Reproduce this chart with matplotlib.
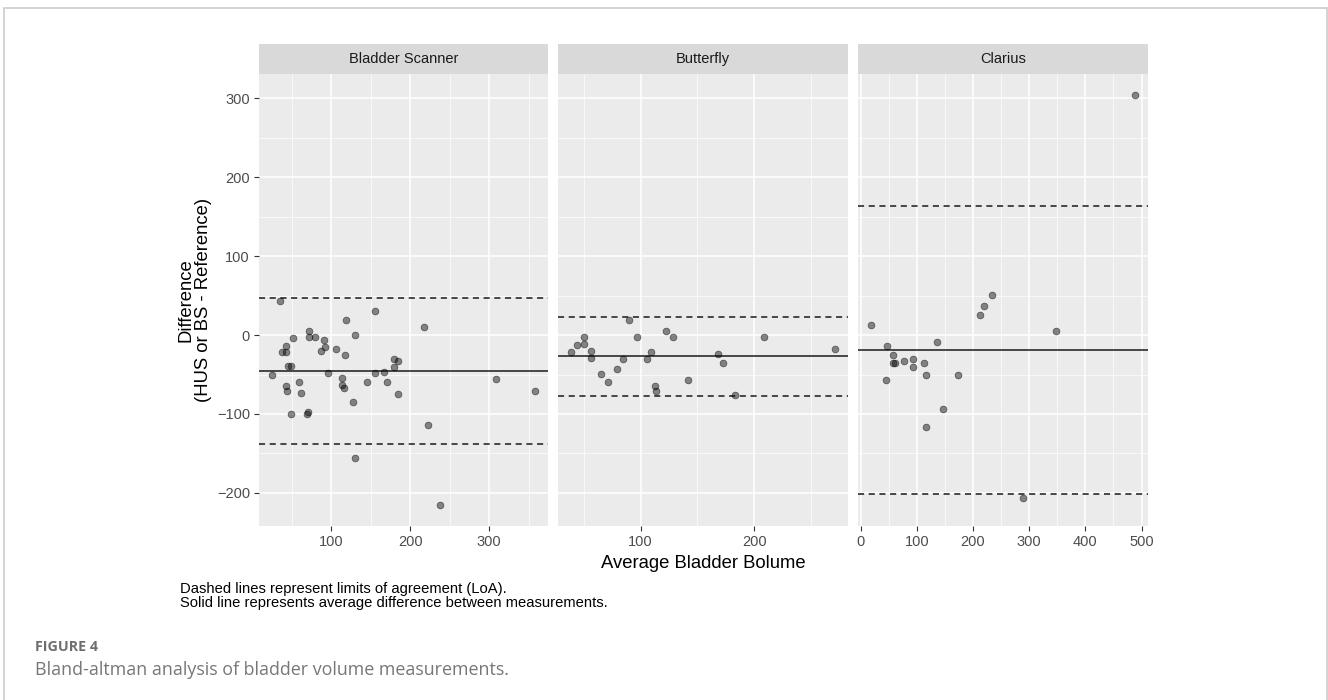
import numpy as np
import matplotlib.pyplot as plt
from matplotlib.patches import Rectangle
from matplotlib.ticker import FixedLocator

# Facet names
devices = ["Bladder Scanner", "Butterfly", "Clarius"]

# Bladder Scanner: average volume vs difference
bs_avg = [35, 25, 38, 43, 43, 52, 45, 49, 42, 44, 49, 59, 62, 69, 70, 72, 72, 79, 91, 92,
          87, 96, 106, 119, 130, 117, 114, 114, 116, 127, 130, 145, 156, 156, 167, 171,
          179, 184, 180, 184, 217, 223, 238, 309, 358]
bs_diff = [43, -50, -22, -22, -14, -4, -39, -39, -65, -71, -100, -59, -74, -100, -98, 5, -3,
           -3, -6, -15, -20, -48, -18, 19, 0, -25, -54, -63, -67, -85, -156, -60, 30, -48,
           -47, -59, -30, -33, -40, -75, 10, -114, -216, -56, -71]

# Butterfly
bf_avg = [39, 44, 50, 50, 56, 56, 65, 71, 79, 85, 90, 97, 106, 109, 113, 114, 122, 129,
          142, 168, 173, 183, 209, 271]
bf_diff = [-22, -12, -2, -11, -20, -29, -49, -60, -43, -30, 19, -2, -30, -22, -65, -71, 5,
           -2, -57, -24, -35, -76, -3, -17]

# Clarius
cl_avg = [19, 47, 46, 58, 57, 61, 77, 94, 94, 113, 116, 117, 136, 147, 174, 212, 219, 234,
          289, 347, 488]
cl_diff = [13, -14, -57, -25, -35, -35, -33, -30, -41, -35, -51, -116, -9, -94, -50, 26, 37,
           51, -207, 5, 305]

# mean difference and limits of agreement (lower, upper)
bias = [-45, -27, -19]
loa_low = [-138, -77, -201]
loa_high = [47, 23, 164]

avgs = [bs_avg, bf_avg, cl_avg]
diffs = [bs_diff, bf_diff, cl_diff]
major_x = [[100, 200, 300], [100, 200], [0, 100, 200, 300, 400, 500]]
minor_x = [[50, 150, 250, 350], [50, 150, 250], [50, 150, 250, 350, 450]]

W, H = 1328, 700
fig = plt.figure(figsize=(W / 100, H / 100), dpi=100)
plt.rcParams['font.family'] = ['Liberation Sans', 'DejaVu Sans']

# outer frame of the figure box
fig.patches.append(Rectangle((4 / W, -0.1), (1323 / W), 1.1 - 8 / H, transform=fig.transFigure,
                             fill=False, edgecolor='#cccccc', linewidth=1.2))

panels_x = [(259, 548), (558, 848), (858, 1148)]
top, bottom, strip_top = 74, 526, 44

# y limits with ggplot style 5% expansion
all_d = bs_diff + bf_diff + cl_diff
span = max(all_d) - min(all_d)
ylim = (min(all_d) - 0.05 * span, max(all_d) + 0.05 * span)

for i, name in enumerate(devices):
    x0, x1 = panels_x[i]
    ax = fig.add_axes([x0 / W, 1 - bottom / H, (x1 - x0) / W, (bottom - top) / H])
    ax.set_facecolor('#ebebeb')
    for s in ax.spines.values():
        s.set_visible(False)

    ax.scatter(avgs[i], diffs[i], s=24, facecolor=(0, 0, 0, 0.45),
               edgecolor=(0, 0, 0, 0.55), linewidth=0.5, zorder=3)
    ax.axhline(bias[i], color='#1a1a1a', lw=1.1, zorder=2)
    ax.axhline(loa_low[i], color='#1a1a1a', lw=1.1, ls=(0, (4, 3)), zorder=2)
    ax.axhline(loa_high[i], color='#1a1a1a', lw=1.1, ls=(0, (4, 3)), zorder=2)

    xs = avgs[i]
    xspan = max(xs) - min(xs)
    ax.set_xlim(min(xs) - 0.05 * xspan, max(xs) + 0.05 * xspan)
    ax.set_ylim(ylim)

    ax.xaxis.set_major_locator(FixedLocator(major_x[i]))
    ax.xaxis.set_minor_locator(FixedLocator(minor_x[i]))
    ax.yaxis.set_major_locator(FixedLocator([-200, -100, 0, 100, 200, 300]))
    ax.yaxis.set_minor_locator(FixedLocator([-150, -50, 50, 150, 250]))
    ax.grid(which='major', color='white', lw=1.1, zorder=0)
    ax.grid(which='minor', color='white', lw=0.5, zorder=0)
    ax.set_axisbelow(True)
    ax.tick_params(which='major', length=3.5, width=0.8, color='#333333',
                   labelcolor='#4d4d4d', labelsize=10.5, pad=3)
    ax.tick_params(which='minor', length=0)
    if i > 0:
        ax.tick_params(axis='y', which='both', left=False, labelleft=False)

    # facet strip
    sax = fig.add_axes([x0 / W, 1 - top / H, (x1 - x0) / W, (top - strip_top) / H])
    sax.set_facecolor('#d9d9d9')
    sax.set_xticks([])
    sax.set_yticks([])
    for s in sax.spines.values():
        s.set_visible(False)
    sax.text(0.5, 0.5, name, ha='center', va='center', fontsize=10.5, color='#1a1a1a',
             transform=sax.transAxes)

fig.text(195 / W, 1 - 300 / H, "Difference\n(HUS or BS - Reference)", rotation=90,
         ha='center', va='center', fontsize=13.3, linespacing=1.0)
fig.text(703 / W, 1 - 564 / H, "Average Bladder Bolume", ha='center', va='center',
         fontsize=13.3)
fig.text(180 / W, 1 - 596 / H,
         "Dashed lines represent limits of agreement (LoA).\n"
         "Solid line represents average difference between measurements.",
         ha='left', va='center', fontsize=10.6, linespacing=0.95)

fig.text(35 / W, 1 - 647 / H, "FIGURE 4", ha='left', va='center', fontsize=10.3,
         color='#6e6e6e', fontweight='bold', family=['Open Sans', 'DejaVu Sans'])
fig.text(35 / W, 1 - 670 / H, "Bland-altman analysis of bladder volume measurements.",
         ha='left', va='center', fontsize=12.9, color='#777777',
         family=['Open Sans', 'DejaVu Sans'])

fig.savefig("out.png", dpi=100)
